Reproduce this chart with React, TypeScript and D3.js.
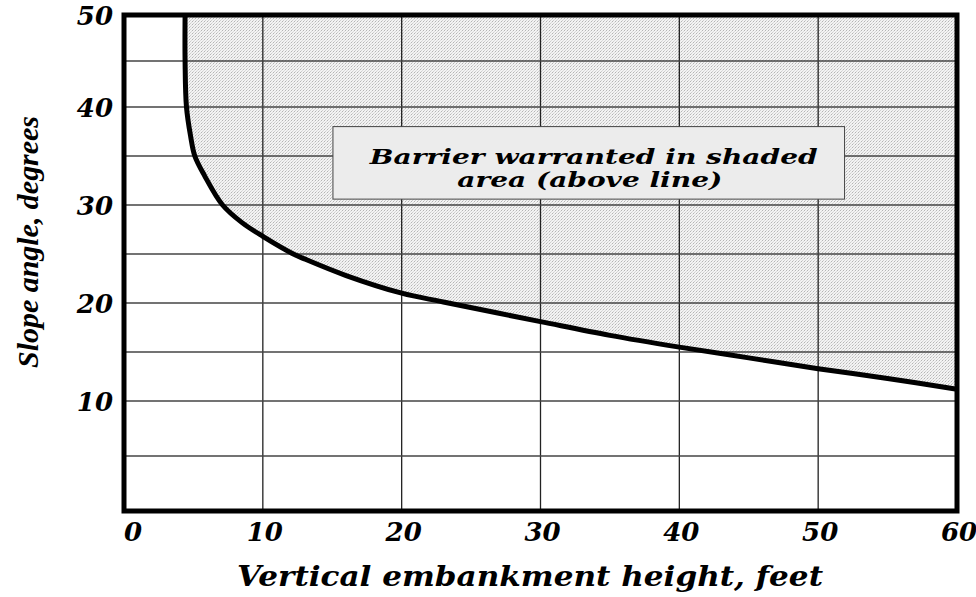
import * as React from 'react';
import * as d3 from 'd3';

// curve: embankment height (ft) vs slope angle (deg)
const heightFt = [4.4, 4.4, 4.5, 4.8, 5.1, 5.8, 7.1, 8.5, 10, 12.2, 13, 16, 20, 23, 30, 35, 40, 45, 50, 55, 60];
const slopeDeg = [50, 45, 40, 37, 35, 33, 30, 28.2, 26.8, 25, 24.5, 22.8, 21.0, 20.1, 18.1, 16.7, 15.5, 14.4, 13.3, 12.3, 11.2];

const xTicks = [0, 10, 20, 30, 40, 50, 60];
const yTicks = [10, 20, 30, 40, 50];
const yGrid = [5, 10, 15, 20, 25, 30, 35, 40, 45];
const noteLines = ['Barrier warranted in shaded', 'area (above line)'];

const W = 976;
const H = 597;
const bookman = '"DejaVu Serif", serif';

export default function App() {
  const x = d3.scaleLinear().domain([0, 60]).range([124, 957]);
  // the printed axis is not evenly spaced near zero
  const y = d3.scaleLinear().domain([0, 10, 40, 50]).range([511, 401, 107, 15]);

  const pts: [number, number][] = heightFt.map((h, i) => [h, slopeDeg[i]]);
  const line = d3.line<[number, number]>()
    .x(d => x(d[0]))
    .y(d => y(d[1]))
    .curve(d3.curveCatmullRom.alpha(0.5));

  const curvePath = line(pts) || '';
  const shadePath = `${curvePath}L${x(60)},${y(50)}Z`;

  // note box
  const bx0 = x(15.05), bx1 = x(51.9);
  const by0 = y(38), by1 = y(30.6);
  const bcx = (bx0 + bx1) / 2;

  return (
    <svg width={W} height={H} style={{ position: 'absolute', left: 0, top: 0, background: '#fff' }}>
      <defs>
        <pattern id="dots" width="3" height="3" patternUnits="userSpaceOnUse">
          <rect width="3" height="3" fill="#f3f3f3" />
          <rect x="0" y="0" width="1" height="1" fill="#b4b4b4" />
          <rect x="1" y="2" width="1" height="1" fill="#cecece" />
          <rect x="2" y="1" width="1" height="1" fill="#dadada" />
        </pattern>
      </defs>

      <path d={shadePath} fill="url(#dots)" />

      {/* grid */}
      {xTicks.slice(1, -1).map(t => (
        <line key={'gx' + t} x1={x(t)} x2={x(t)} y1={y(0)} y2={y(50)} stroke="#222" strokeWidth={1.3} />
      ))}
      {yGrid.map(t => (
        <line key={'gy' + t} x1={x(0)} x2={x(60)} y1={y(t)} y2={y(t)} stroke="#444" strokeWidth={1.6} />
      ))}

      {/* note */}
      <rect x={bx0} y={by0} width={bx1 - bx0} height={by1 - by0} fill="#ececec" stroke="#444" strokeWidth={1} />
      {noteLines.map((s, i) => (
        <text key={s} x={bcx + (i === 0 ? 5 : 1)} y={by0 + 37 + i * 23} textAnchor="middle"
          fontFamily={bookman} fontStyle="italic" fontWeight="bold" fontSize={21}
          textLength={i === 0 ? 448 : 265} lengthAdjust="spacingAndGlyphs" fill="#000">
          {s}
        </text>
      ))}

      <path d={curvePath} fill="none" stroke="#000" strokeWidth={5} strokeLinejoin="round" />

      {/* frame */}
      <rect x={x(0)} y={y(50)} width={x(60) - x(0)} height={y(0) - y(50)} fill="none" stroke="#000" strokeWidth={5} />

      {/* x ticks */}
      {xTicks.map((t, i) => (
        <text key={'xt' + t} x={i === 0 ? x(t) : x(t) + 2} y={541} textAnchor={i === 0 ? 'start' : 'middle'}
          fontFamily={bookman} fontStyle="italic" fontWeight="bold" fontSize={26} fill="#000">
          {t}
        </text>
      ))}
      {/* y ticks */}
      {yTicks.map(t => (
        <text key={'yt' + t} x={113} y={y(t) + 10} textAnchor="end"
          fontFamily={bookman} fontStyle="italic" fontWeight="bold" fontSize={26} fill="#000">
          {t}
        </text>
      ))}

      <text x={530} y={586} textAnchor="middle" fontFamily={bookman} fontStyle="italic" fontWeight="bold"
        fontSize={27} textLength={586} lengthAdjust="spacingAndGlyphs" fill="#000">
        Vertical embankment height, feet
      </text>
      <text transform="translate(38,242) rotate(-90)" textAnchor="middle"
        fontFamily='"Liberation Serif", serif' fontStyle="italic" fontWeight="bold" fontSize={29}
        textLength={252} lengthAdjust="spacingAndGlyphs" fill="#000">
        Slope angle, degrees
      </text>
    </svg>
  );
}
